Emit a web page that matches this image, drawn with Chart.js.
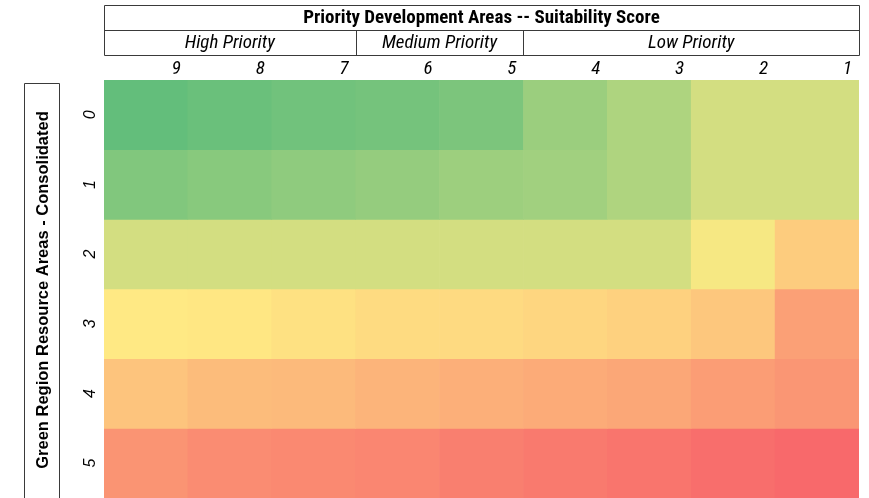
<!DOCTYPE html>
<html>
<head>
<meta charset="utf-8">
<script src="https://cdn.jsdelivr.net/npm/chart.js@4.4.1/dist/chart.umd.min.js"></script>
<style>
  html, body { margin: 0; padding: 0; background: #ffffff; }
  #wrap { width: 869px; height: 498px; position: relative; }
</style>
</head>
<body>
<div id="wrap"><canvas id="c" width="869" height="498"></canvas></div>
<script>
// ---- data ----
const chartTitle = "Priority Development Areas -- Suitability Score";
const yAxisTitle = "Green Region Resource Areas - Consolidated";
const columnLabels = ["9", "8", "7", "6", "5", "4", "3", "2", "1"];
const rowLabels = ["0", "1", "2", "3", "4", "5"];
const priorityGroups = ["High Priority", "Medium Priority", "Low Priority"];
const priorityGroupSpans = [3, 2, 4];

// colour-scale scores (0 = green, 50 = yellow, 100 = red)
const scoresRow0 = [0, 2.2, 4.5, 5.8, 8, 18, 24, 36, 36];
const scoresRow1 = [9.6, 12, 14, 16, 18.6, 20, 24.4, 36, 36];
const scoresRow2 = [36, 36, 36, 36, 36, 36, 36, 47, 62];
const scoresRow3 = [50.8, 51.5, 54, 56, 56.5, 58, 60, 64, 79];
const scoresRow4 = [65, 68, 69, 71, 73, 74.6, 76, 80, 82.7];
const scoresRow5 = [83.5, 86.5, 87.7, 89, 91.5, 93.5, 95.5, 98, 100];
const allScores = [scoresRow0, scoresRow1, scoresRow2, scoresRow3, scoresRow4, scoresRow5];

// ---- colour scale (green - yellow - red) ----
const cLow = [99, 190, 123], cMid = [255, 235, 132], cHigh = [248, 105, 107];
function scaleColor(v) {
  let a, b, t;
  if (v <= 50) { a = cLow; b = cMid; t = v / 50; } else { a = cMid; b = cHigh; t = (v - 50) / 50; }
  const c = a.map((x, i) => Math.round(x + (b[i] - x) * t));
  return `rgb(${c[0]},${c[1]},${c[2]})`;
}

const datasets = allScores.map((row, r) => ({
  label: rowLabels[r],
  data: row.map(() => [r, r + 1]),
  backgroundColor: row.map(scaleColor),
  borderWidth: 0,
  barPercentage: 1,
  categoryPercentage: 1,
  grouped: false
}));

const narrow = '"Liberation Sans Narrow", "Roboto Condensed", "DejaVu Sans Condensed", sans-serif';
const regular = '"Liberation Sans", Arial, sans-serif';

const decor = {
  id: 'decor',
  afterDraw(chart) {
    const ctx = chart.ctx;
    const xs = chart.scales.x, ys = chart.scales.y;
    const n = columnLabels.length;
    const colW = (xs.getPixelForValue(1) - xs.getPixelForValue(0));
    const edge = i => xs.getPixelForValue(i) - colW / 2;
    const left = edge(0), right = edge(n);
    const bottom = chart.chartArea.bottom;
    ctx.save();
    ctx.strokeStyle = '#3a3a3a';
    ctx.lineWidth = 1;
    // header box
    const hTop = 5.5, hMid = 30.5, hBot = 55.5;
    ctx.beginPath();
    ctx.rect(Math.round(left) + 0.5, hTop, Math.round(right) - Math.round(left), hBot - hTop);
    ctx.moveTo(Math.round(left), hMid); ctx.lineTo(Math.round(right), hMid);
    let acc = 0;
    for (let g = 0; g < priorityGroupSpans.length - 1; g++) {
      acc += priorityGroupSpans[g];
      const x = Math.round(edge(acc)) + 0.5;
      ctx.moveTo(x, hMid); ctx.lineTo(x, hBot);
    }
    ctx.stroke();
    ctx.fillStyle = '#000';
    ctx.textAlign = 'center';
    ctx.textBaseline = 'middle';
    ctx.font = 'bold 19px ' + narrow;
    ctx.fillText(chartTitle, (left + right) / 2, 18.5);
    ctx.font = 'italic 19px ' + narrow;
    acc = 0;
    priorityGroups.forEach((g, i) => {
      const x0 = edge(acc), x1 = edge(acc + priorityGroupSpans[i]);
      ctx.fillText(g, (x0 + x1) / 2, 43.5);
      acc += priorityGroupSpans[i];
    });
    // column labels (right aligned in cells)
    ctx.textAlign = 'right';
    ctx.font = 'italic 19px ' + narrow;
    columnLabels.forEach((lab, i) => {
      ctx.fillText(lab, edge(i + 1) - 7, 69.5);
    });
    // y-axis title box
    ctx.beginPath();
    ctx.moveTo(24.5, bottom + 1); ctx.lineTo(24.5, 83.5); ctx.lineTo(59.5, 83.5); ctx.lineTo(59.5, bottom + 1);
    ctx.stroke();
    ctx.save();
    ctx.translate(43, 290);
    ctx.rotate(-Math.PI / 2);
    ctx.textAlign = 'center';
    ctx.font = 'bold 16.5px ' + regular;
    ctx.fillText(yAxisTitle, 0, 0);
    ctx.restore();
    // row labels
    rowLabels.forEach((lab, r) => {
      const y = (ys.getPixelForValue(r) + ys.getPixelForValue(r + 1)) / 2;
      ctx.save();
      ctx.translate(91, y);
      ctx.rotate(-Math.PI / 2);
      ctx.textAlign = 'center';
      ctx.font = 'italic 16px ' + regular;
      ctx.fillText(lab, 0, 0);
      ctx.restore();
    });
    ctx.restore();
  }
};

new Chart(document.getElementById('c'), {
  type: 'bar',
  data: { labels: columnLabels, datasets },
  options: {
    responsive: false,
    animation: false,
    layout: { padding: { left: 104, top: 80, right: 10, bottom: 0 } },
    plugins: { legend: { display: false }, tooltip: { enabled: false }, title: { display: false } },
    scales: {
      x: { type: 'category', display: false, offset: true },
      y: { type: 'linear', display: false, min: 0, max: 6, reverse: true }
    }
  },
  plugins: [decor]
});
</script>
</body>
</html>
